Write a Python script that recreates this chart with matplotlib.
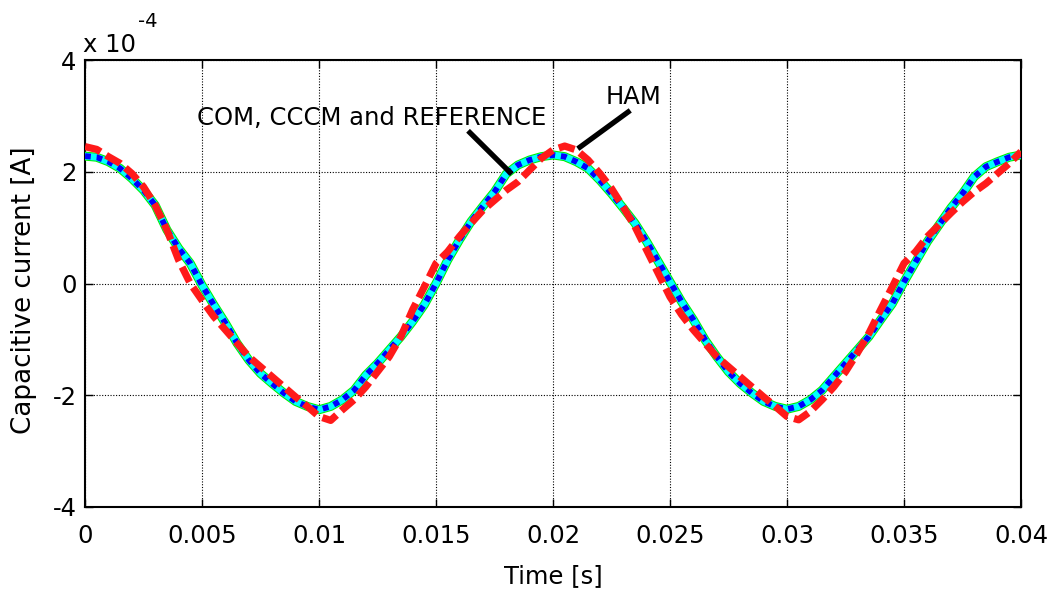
import numpy as np
import matplotlib
matplotlib.use('Agg')
import matplotlib.pyplot as plt

# sample times (s), every 0.5 ms
t = np.linspace(0, 0.04, 81)

# values, current in units of 1e-4 A
i_ref = [2.28, 2.26, 2.18, 2.06, 1.88, 1.67, 1.40, 0.96, 0.63, 0.36,
         -0.03, -0.38, -0.71, -1.07, -1.37, -1.61, -1.79, -1.96, -2.11, -2.20,
         -2.26, -2.20, -2.08, -1.91, -1.64, -1.43, -1.19, -0.95, -0.68, -0.38,
         0.00, 0.42, 0.78, 1.11, 1.38, 1.64, 1.96, 2.12, 2.21, 2.27,
         2.30, 2.27, 2.18, 2.06, 1.85, 1.61, 1.35, 1.08, 0.75, 0.39,
         0.03, -0.33, -0.65, -1.01, -1.31, -1.58, -1.79, -1.96, -2.11, -2.20,
         -2.25, -2.20, -2.08, -1.91, -1.67, -1.43, -1.19, -0.95, -0.65, -0.36,
         0.03, 0.39, 0.75, 1.05, 1.35, 1.61, 1.91, 2.09, 2.18, 2.26, 2.30]
i_com = i_ref
i_cccm = i_ref

i_ham = [2.45, 2.40, 2.27, 2.15, 1.97, 1.73, 1.40, 0.96, 0.42, 0.00,
         -0.30, -0.59, -0.83, -1.07, -1.31, -1.49, -1.67, -1.85, -2.03, -2.20,
         -2.38, -2.45, -2.26, -2.08, -1.85, -1.58, -1.31, -0.95, -0.47, -0.06,
         0.36, 0.57, 0.84, 1.08, 1.31, 1.49, 1.67, 1.82, 2.03, 2.24,
         2.39, 2.46, 2.39, 2.21, 1.97, 1.70, 1.37, 1.02, 0.60, 0.18,
         -0.24, -0.56, -0.83, -1.07, -1.31, -1.49, -1.67, -1.85, -2.03, -2.20,
         -2.38, -2.44, -2.29, -2.08, -1.85, -1.58, -1.25, -0.89, -0.47, -0.06,
         0.36, 0.57, 0.84, 1.05, 1.26, 1.46, 1.64, 1.79, 1.97, 2.15, 2.36]

xticks = [0, 0.005, 0.01, 0.015, 0.02, 0.025, 0.03, 0.035, 0.04]
xticklabels = ['0', '0.005', '0.01', '0.015', '0.02', '0.025', '0.03', '0.035', '0.04']
yticks = [-4, -2, 0, 2, 4]

plt.rcParams['font.family'] = ['DejaVu Sans']
W, H = 1051, 589
fig = plt.figure(figsize=(W / 100, H / 100), dpi=100)
ax = fig.add_axes([85 / W, 1 - 507 / H, 936 / W, 447 / H])

ax.plot(t, i_com, color='#00ee00', lw=6.5, zorder=3)
ax.plot(t, i_cccm, color='#00ffff', lw=5.0, zorder=4)
ax.plot(t, i_ref, color='#0000ff', lw=4.2, ls=(0, (1.0, 1.0)), zorder=5)
ax.plot(t, i_ham, color='#ff1a1a', lw=5.2, ls=(0, (2.3, 0.9)), zorder=6)

ax.set_xlim(0, 0.04)
ax.set_ylim(-4, 4)
ax.set_xticks(xticks)
ax.set_xticklabels(xticklabels)
ax.set_yticks(yticks)
ax.set_yticklabels([str(v) for v in yticks])
ax.tick_params(direction='in', length=6, width=1, labelsize=17.5, top=True, right=True)
ax.tick_params(axis='x', pad=12)
ax.tick_params(axis='y', pad=6)
ax.grid(True, color='black', ls=(0, (1, 1.5)), lw=0.8)
for s in ax.spines.values():
    s.set_linewidth(1.5)

fig.text(553 / W, 1 - 576 / H, 'Time [s]', fontsize=17.5, ha='center', va='center')
fig.text(24 / W, 1 - 290 / H, 'Capacitive current [A]', fontsize=18.8,
         ha='center', va='center', rotation=90)

# the MATLAB style exponent label
fig.text(83 / W, 1 - 52 / H, 'x 10', fontsize=17.5, ha='left', va='baseline')
fig.text(138 / W, 1 - 27 / H, '-4', fontsize=14, ha='left', va='baseline')

ax.text(0.01226, 2.96, 'COM, CCCM and REFERENCE', fontsize=17.5, ha='center', va='center')
ax.plot([0.01645, 0.01816], [2.70, 1.99], color='black', lw=3.8, zorder=7)
ax.text(0.02346, 3.34, 'HAM', fontsize=17.5, ha='center', va='center')
ax.plot([0.02321, 0.02115], [3.07, 2.44], color='black', lw=3.8, zorder=7)

fig.savefig('out.png', dpi=100)
